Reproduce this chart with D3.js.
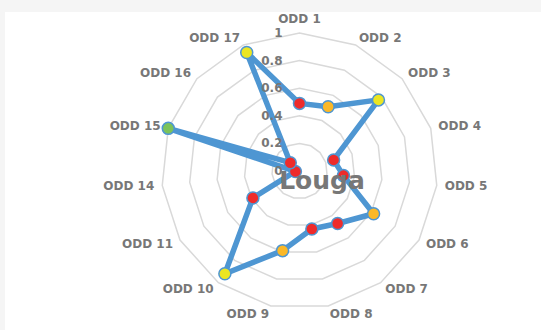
<!DOCTYPE html>
<html>
<head>
<meta charset="utf-8">
<script src="https://cdn.jsdelivr.net/npm/d3@7/dist/d3.min.js"></script>
<style>
  html, body { margin: 0; padding: 0; background: #f5f5f5; }
  svg { display: block; }
  text { font-family: "DejaVu Sans", Verdana, sans-serif; font-weight: bold; }
</style>
</head>
<body>
<svg id="chart" width="541" height="330"></svg>
<script>
// Scores per sustainable development goal (ODD) for the Louga region
const categories = ["ODD 1", "ODD 2", "ODD 3", "ODD 4", "ODD 5", "ODD 6", "ODD 7", "ODD 8",
                    "ODD 9", "ODD 10", "ODD 11", "ODD 14", "ODD 15", "ODD 16", "ODD 17"];
const scores = [0.49, 0.51, 0.77, 0.26, 0.32, 0.62, 0.47, 0.43,
                0.59, 0.92, 0.39, 0.03, 1.00, 0.09, 0.94];
const tickValues = [0, 0.2, 0.4, 0.6, 0.8, 1];
const tickLabels = ["0", "0.2", "0.4", "0.6", "0.8", "1"];
const title = "Louga";

// Status colours: below 0.5, up to 0.75, below 1, fully achieved
const statusThresholds = [0.5, 0.75, 1];
const statusColors = ["#ee2b2b", "#fbb827", "#ebe622", "#7cc35a"];

const W = 541, H = 330;
const cx = 299.5, cy = 171, R = 138;

const svg = d3.select("#chart");

// chart area
svg.append("rect").attr("x", 5).attr("y", 12).attr("width", W - 5).attr("height", H - 12)
  .attr("fill", "#ffffff");

const r = d3.scaleLinear().domain([0, 1]).range([0, R]);
const angle = d3.scalePoint().domain(categories).range([0, 2 * Math.PI * (1 - 1 / categories.length)]);
const status = d3.scaleThreshold().domain(statusThresholds).range(statusColors);

const g = svg.append("g").attr("transform", `translate(${cx},${cy})`);

// polygon rings
const ringLine = d3.lineRadial().angle(d => angle(d)).curve(d3.curveLinearClosed);
tickValues.filter(v => v > 0).forEach(v => {
  g.append("path")
    .attr("d", ringLine.radius(() => r(v))(categories))
    .attr("fill", "none")
    .attr("stroke", "#d9d9d9")
    .attr("stroke-width", 1.5);
});

// category labels
categories.forEach(c => {
  const a = angle(c);
  const s = Math.sin(a), co = Math.cos(a);
  const lr = R + 8;
  const x = lr * s, y = -lr * co;
  let anchor = "middle", dy = 0;
  if (Math.abs(s) < 0.05) { anchor = "middle"; dy = co > 0 ? -6 : 6; }
  else anchor = s > 0 ? "start" : "end";
  g.append("text")
    .attr("x", x).attr("y", y + dy)
    .attr("text-anchor", anchor)
    .attr("dominant-baseline", "central")
    .attr("font-size", 12)
    .attr("fill", "#777777")
    .text(c);
});

// title
svg.append("text")
  .attr("x", 322).attr("y", 189)
  .attr("text-anchor", "middle")
  .attr("font-size", 25)
  .attr("fill", "#777777")
  .text(title);

// series line
const seriesLine = d3.lineRadial()
  .angle((d, i) => angle(categories[i]))
  .radius(d => r(d))
  .curve(d3.curveLinearClosed);

g.append("path")
  .attr("d", seriesLine(scores))
  .attr("fill", "none")
  .attr("stroke", "#4e96d2")
  .attr("stroke-width", 5.5)
  .attr("stroke-linejoin", "round");

// markers
g.selectAll("circle.pt")
  .data(scores)
  .join("circle")
  .attr("class", "pt")
  .attr("cx", (d, i) => r(d) * Math.sin(angle(categories[i])))
  .attr("cy", (d, i) => -r(d) * Math.cos(angle(categories[i])))
  .attr("r", 6)
  .attr("fill", d => status(d))
  .attr("stroke", "#4e96d2")
  .attr("stroke-width", 1.5);

// radial axis tick labels
tickValues.forEach((v, i) => {
  g.append("text")
    .attr("x", -17).attr("y", -r(v))
    .attr("text-anchor", "end")
    .attr("dominant-baseline", "central")
    .attr("font-size", 12)
    .attr("fill", "#777777")
    .text(tickLabels[i]);
});
</script>
</body>
</html>
